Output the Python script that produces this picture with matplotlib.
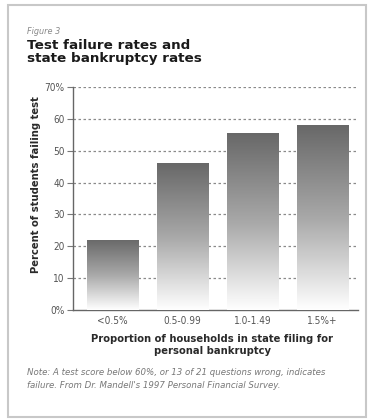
import numpy as np
import matplotlib
matplotlib.use("Agg")
import matplotlib.pyplot as plt
from matplotlib.patches import Rectangle

categories = ["<0.5%", "0.5-0.99", "1.0-1.49", "1.5%+"]
values = [22, 46, 55.5, 58]
yticks = [0, 10, 20, 30, 40, 50, 60, 70]
ytick_labels = ["0%", "10", "20", "30", "40", "50", "60", "70%"]

W, H = 375, 419
fig = plt.figure(figsize=(W / 100, H / 100), dpi=100)
fig.patch.set_facecolor("white")

frame = Rectangle((8 / W, 2 / H), (366 - 8) / W, (412) / H, transform=fig.transFigure,
                  fill=False, edgecolor="#c8c8c8", linewidth=1.5)
fig.add_artist(frame)

ax = fig.add_axes([73 / W, 1 - 310 / H, (358 - 73) / W, (310 - 87) / H])

x = np.arange(len(categories))
grad = np.linspace(0, 1, 256).reshape(-1, 1)
cmap = matplotlib.colors.LinearSegmentedColormap.from_list("g", ["#ffffff", "#a8a8a8", "#686868"])
bars = ax.bar(x, values, width=0.73, color="none", edgecolor="none", zorder=3)
for b in bars:
    x0, y0 = b.get_x(), b.get_y()
    w, h = b.get_width(), b.get_height()
    im = ax.imshow(grad, extent=[x0, x0 + w, y0, y0 + h], origin="lower", cmap=cmap,
                   aspect="auto", zorder=3, vmin=0, vmax=1)
    im.set_clip_path(b)
ax.set_xlim(-0.564, 3.507)
ax.set_ylim(0, 70)

for yv in yticks[1:]:
    ax.axhline(yv, color="#8a8a8a", linewidth=0.9, linestyle=(0, (2, 2)), zorder=1)

ax.set_yticks(yticks)
ax.set_yticklabels(ytick_labels, fontsize=7.2, color="#555555", fontstretch="condensed")
ax.set_xticks(x)
ax.set_xticklabels(categories, fontsize=7.2, color="#555555", fontstretch="condensed")
ax.tick_params(axis="y", length=4, color="#777777", pad=2)
ax.tick_params(axis="x", length=0, pad=4)
for s in ["top", "right"]:
    ax.spines[s].set_visible(False)
for s in ["left", "bottom"]:
    ax.spines[s].set_color("#666666")
    ax.spines[s].set_linewidth(1.0)

fig.text(27 / W, 1 - 31 / H, "Figure 3", fontsize=6.5, style="italic", color="#888888",
         fontstretch="condensed", va="center")
fig.text(27 / W, 1 - 52 / H, "Test failure rates and\nstate bankruptcy rates", fontsize=9.7,
         fontweight="heavy", color="#1a1a1a", va="center", linespacing=1.0)
fig.text(36 / W, 1 - 185 / H, "Percent of students failing test", rotation=90, fontsize=8,
         fontweight="bold", color="#2a2a2a", fontstretch="condensed", ha="center", va="center")
fig.text(212 / W, 1 - 345 / H, "Proportion of households in state filing for\npersonal bankruptcy",
         fontsize=8.0, fontweight="bold", color="#2a2a2a", fontstretch="condensed", ha="center",
         va="center", linespacing=1.15)
fig.text(27 / W, 1 - 379 / H,
         "Note: A test score below 60%, or 13 of 21 questions wrong, indicates\nfailure. From Dr. Mandell's 1997 Personal Financial Survey.",
         fontsize=6.2, style="italic", color="#777777", va="center",
         linespacing=1.45)

fig.savefig("out.png", dpi=100, facecolor="white")
